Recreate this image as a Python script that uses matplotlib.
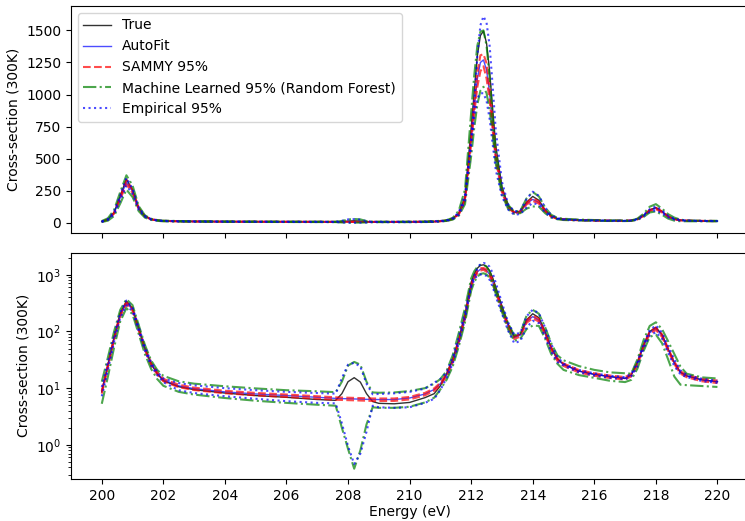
import matplotlib
matplotlib.use("Agg")
import matplotlib.pyplot as plt

# Energy grid (eV)
energy = [
    200.0, 200.2, 200.4, 200.6, 200.8, 201.0, 201.2, 201.4, 201.6, 201.8, 202.0,
    202.5, 203.0, 204.0, 205.0, 206.0, 207.0,
    207.6, 207.8, 208.0, 208.2, 208.4, 208.6, 208.8,
    209.0, 209.5, 210.0, 210.5, 210.8, 211.0,
    211.2, 211.4, 211.6, 211.8, 212.0, 212.1, 212.2, 212.3, 212.4, 212.5, 212.6, 212.7, 212.8, 213.0, 213.2, 213.4,
    213.6, 213.8, 214.0, 214.2, 214.4, 214.6, 214.8,
    215.0, 215.5, 216.0, 216.5, 217.0, 217.2,
    217.4, 217.6, 217.8, 218.0, 218.2, 218.4, 218.6, 218.8, 219.0, 219.5, 220.0,
]

true_xs = [
    8.8, 26, 80, 210, 340, 255, 112, 50, 27, 18, 13.5,
    10.6, 9.4, 8.2, 7.4, 6.9, 6.3,
    6.1, 8.0, 13.0, 15.3, 12.8, 8.0, 5.8,
    5.4, 5.3, 5.6, 6.8, 8.0, 11.0,
    18, 32, 75, 200, 740, 1020, 1300, 1460, 1495, 1400, 1180, 880, 600, 280, 135, 80,
    90, 160, 205, 175, 100, 52, 33,
    26.5, 20, 17.5, 16, 14.8, 17,
    28, 58, 100, 118, 88, 49, 28, 19, 16.5, 14, 13,
]

autofit_xs = [
    8.5, 25, 75, 195, 318, 245, 110, 50, 27, 18.5, 14.0,
    11.0, 9.8, 8.6, 7.9, 7.4, 6.9,
    6.6, 6.55, 6.5, 6.45, 6.4, 6.35, 6.3,
    6.3, 6.3, 6.7, 7.9, 9.5, 12,
    17, 30, 68, 180, 650, 900, 1120, 1250, 1270, 1190, 1010, 760, 520, 250, 125, 78,
    86, 150, 182, 158, 92, 50, 32,
    26, 20, 17.5, 16, 15, 17,
    27, 55, 95, 112, 85, 48, 28, 19, 16.5, 14, 13,
]

sammy_hi = [
    8.9, 26.1, 78.4, 204, 333, 256, 115, 52.3, 28.2, 19.3, 14.6,
    11.5, 10.2, 9.0, 8.25, 7.73, 7.21,
    6.9, 6.84, 6.79, 6.74, 6.69, 6.64, 6.58,
    6.58, 6.58, 7.0, 8.26, 9.93, 12.5,
    17.8, 31.4, 71.1, 188, 679, 941, 1170, 1306, 1315, 1243, 1055, 794, 543, 261, 131, 81.5,
    89.9, 157, 192, 166, 96.1, 52.3, 33.4,
    27.2, 20.9, 18.3, 16.7, 15.7, 17.8,
    28.2, 57.5, 99.3, 117, 88.8, 50.2, 29.3, 19.9, 17.2, 14.6, 13.6,
]

sammy_lo = [
    8.0, 23.6, 70.9, 184, 300, 232, 104, 47.3, 25.5, 17.5, 13.2,
    10.4, 9.26, 8.13, 7.47, 6.99, 6.52,
    6.24, 6.19, 6.14, 6.1, 6.05, 6.0, 5.95,
    5.95, 5.95, 6.33, 7.47, 8.98, 11.3,
    16.1, 28.4, 64.3, 170, 614, 851, 1058, 1181, 1220, 1125, 954, 718, 491, 236, 118, 73.7,
    81.3, 142, 170, 149, 86.9, 47.3, 30.2,
    24.6, 18.9, 16.5, 15.1, 14.2, 16.1,
    25.5, 52, 89.8, 106, 80.3, 45.4, 26.5, 18, 15.6, 13.2, 12.3,
]

ml_hi = [
    13, 35, 100, 240, 370, 290, 130, 58, 31, 21, 16.5,
    13.2, 12.0, 10.8, 9.9, 9.2, 8.8,
    8.5, 13, 25, 29, 26, 13, 8.4,
    8.3, 8.4, 8.9, 10.0, 12.0, 14.5,
    20, 38, 95, 260, 860, 1150, 1380, 1490, 1500, 1380, 1130, 830, 560, 265, 140, 85,
    95, 190, 240, 205, 120, 62, 38,
    31, 24.5, 21, 19, 18.3, 18,
    32, 70, 125, 145, 110, 67, 40, 24, 18, 15.5, 14.8,
]

ml_lo = [
    5.3, 16, 52, 150, 258, 200, 90, 40, 22, 14.5, 11,
    8.6, 7.7, 6.7, 6.0, 5.5, 5.1,
    4.9, 2.0, 0.85, 0.38, 0.8, 2.3, 4.6,
    4.5, 4.5, 4.7, 5.6, 6.8, 9.5,
    14, 24, 55, 145, 520, 740, 920, 1030, 1060, 1010, 880, 680, 460, 220, 108, 68,
    75, 110, 127, 125, 75, 40, 27,
    21, 17, 15.2, 13.5, 12.8, 14,
    22, 45, 80, 88, 62, 32, 16, 11.5, 11.3, 10.9, 10.5,
]

emp_hi = [
    10.5, 29, 85, 215, 350, 265, 120, 54, 29, 19.5, 14.8,
    12.3, 11.2, 10.0, 9.2, 8.6, 8.2,
    8.0, 15, 26, 28, 24, 12, 7.8,
    7.9, 8.1, 8.6, 9.8, 12.5, 14.5,
    19, 35, 82, 220, 650, 950, 1300, 1540, 1610, 1560, 1380, 1060, 720, 320, 145, 88,
    95, 185, 242, 210, 118, 60, 36,
    27, 21, 18.2, 16.6, 15.6, 17.8,
    29, 60, 105, 128, 95, 55, 32, 20.5, 17.2, 14.6, 13.5,
]

emp_lo = [
    7.2, 21, 66, 175, 290, 225, 100, 46, 25, 17, 12.7,
    9.2, 8.2, 7.2, 6.5, 5.9, 5.5,
    5.4, 2.4, 0.95, 0.46, 0.7, 1.7, 4.9,
    4.6, 4.5, 4.6, 5.5, 6.5, 9.3,
    15, 27, 62, 170, 600, 820, 970, 1010, 1010, 950, 810, 610, 410, 205, 103, 62,
    68, 118, 154, 140, 80, 44, 29,
    25, 19, 16.7, 15.2, 14.3, 16.2,
    24, 50, 85, 97, 75, 42, 24.5, 17.5, 15.7, 13.3, 12.4,
]

fig = plt.figure(figsize=(7.45, 5.21), dpi=100)
ax_lin = fig.add_axes([0.0953, 0.5528, 0.909, 0.4357])
ax_log = fig.add_axes([0.0953, 0.0806, 0.909, 0.4344], sharex=ax_lin)


def draw(ax):
    ax.plot(energy, true_xs, color="k", lw=1.0, alpha=0.8, label="True")
    ax.plot(energy, autofit_xs, color="b", lw=1.0, alpha=0.7, label="AutoFit")
    ax.plot(energy, sammy_hi, "r--", lw=1.5, alpha=0.7, label="SAMMY 95%")
    ax.plot(energy, sammy_lo, "r--", lw=1.5, alpha=0.7)
    ax.plot(energy, ml_hi, "g-.", lw=1.5, alpha=0.7,
            label="Machine Learned 95% (Random Forest)")
    ax.plot(energy, ml_lo, "g-.", lw=1.5, alpha=0.7)
    ax.plot(energy, emp_hi, "b:", lw=1.5, alpha=0.7, label="Empirical 95%")
    ax.plot(energy, emp_lo, "b:", lw=1.5, alpha=0.7)
    ax.set_ylabel("Cross-section (300K)")


draw(ax_lin)
draw(ax_log)

ax_lin.set_yticks([0, 250, 500, 750, 1000, 1250, 1500])
ax_lin.tick_params(labelbottom=False)
ax_lin.legend(loc="upper left")

ax_log.set_yscale("log")
ax_log.set_xticks(range(200, 221, 2))
ax_log.set_xlabel("Energy (eV)", labelpad=1.5)

fig.savefig("out.png", dpi=100)
